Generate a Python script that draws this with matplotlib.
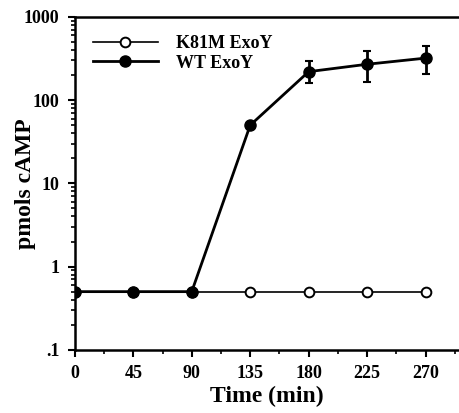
import matplotlib.pyplot as plt
from matplotlib.ticker import FixedLocator, NullFormatter

time = [0, 45, 90, 135, 180, 225, 270]
k81m = [0.5, 0.5, 0.5, 0.5, 0.5, 0.5, 0.5]
wt = [0.5, 0.5, 0.5, 50, 220, 270, 320]
wt_lo = [0, 0, 0, 0, 60, 105, 115]
wt_hi = [0, 0, 0, 0, 75, 120, 125]

plt.rcParams['font.family'] = ['Liberation Serif', 'DejaVu Serif']

fig = plt.figure(figsize=(4.59, 4.13), dpi=100)
ax = fig.add_axes([0.163, 0.153, 0.835, 0.806])

ax.plot(time, k81m, marker='o', color='black', mfc='white', mec='black',
        ms=7, mew=1.4, lw=1.2, label='K81M ExoY', zorder=3)
ax.errorbar(time, wt, yerr=[wt_lo, wt_hi], fmt='none', ecolor='black',
            elinewidth=2, capsize=3, capthick=1.5, zorder=4)
ax.plot(time, wt, marker='o', color='black', ms=8, lw=2,
        label='WT ExoY', zorder=5)

ax.set_yscale('log')
ax.set_ylim(0.1, 1000)
ax.set_xlim(0, 295)
ax.set_yticks([0.1, 1, 10, 100, 1000])
ax.set_yticklabels(['.1', '1', '10', '100', '1000'])
ax.yaxis.set_minor_formatter(NullFormatter())
ax.set_xticks(time)
ax.xaxis.set_minor_locator(FixedLocator([22.5, 67.5, 112.5, 157.5, 202.5, 247.5, 292.5]))

ax.spines['right'].set_visible(False)
for s in ['left', 'bottom', 'top']:
    ax.spines[s].set_linewidth(1.8)
ax.tick_params(which='major', length=5, width=1.5, labelsize=13, pad=6)
ax.tick_params(which='minor', length=3, width=1.2)
for lab in ax.get_xticklabels() + ax.get_yticklabels():
    lab.set_fontweight('bold')

ax.set_xlabel('Time (min)', fontsize=17, fontweight='bold', labelpad=3)
ax.set_ylabel('pmols cAMP', fontsize=17, fontweight='bold')
ax.yaxis.set_label_coords(-0.10, 0.5)

leg = ax.legend(loc='upper left', frameon=False, fontsize=13, handlelength=3.6,
                borderaxespad=0.6, labelspacing=0.15, handletextpad=1.0)
for t in leg.get_texts():
    t.set_fontweight('bold')

fig.savefig('out.png', dpi=100)
